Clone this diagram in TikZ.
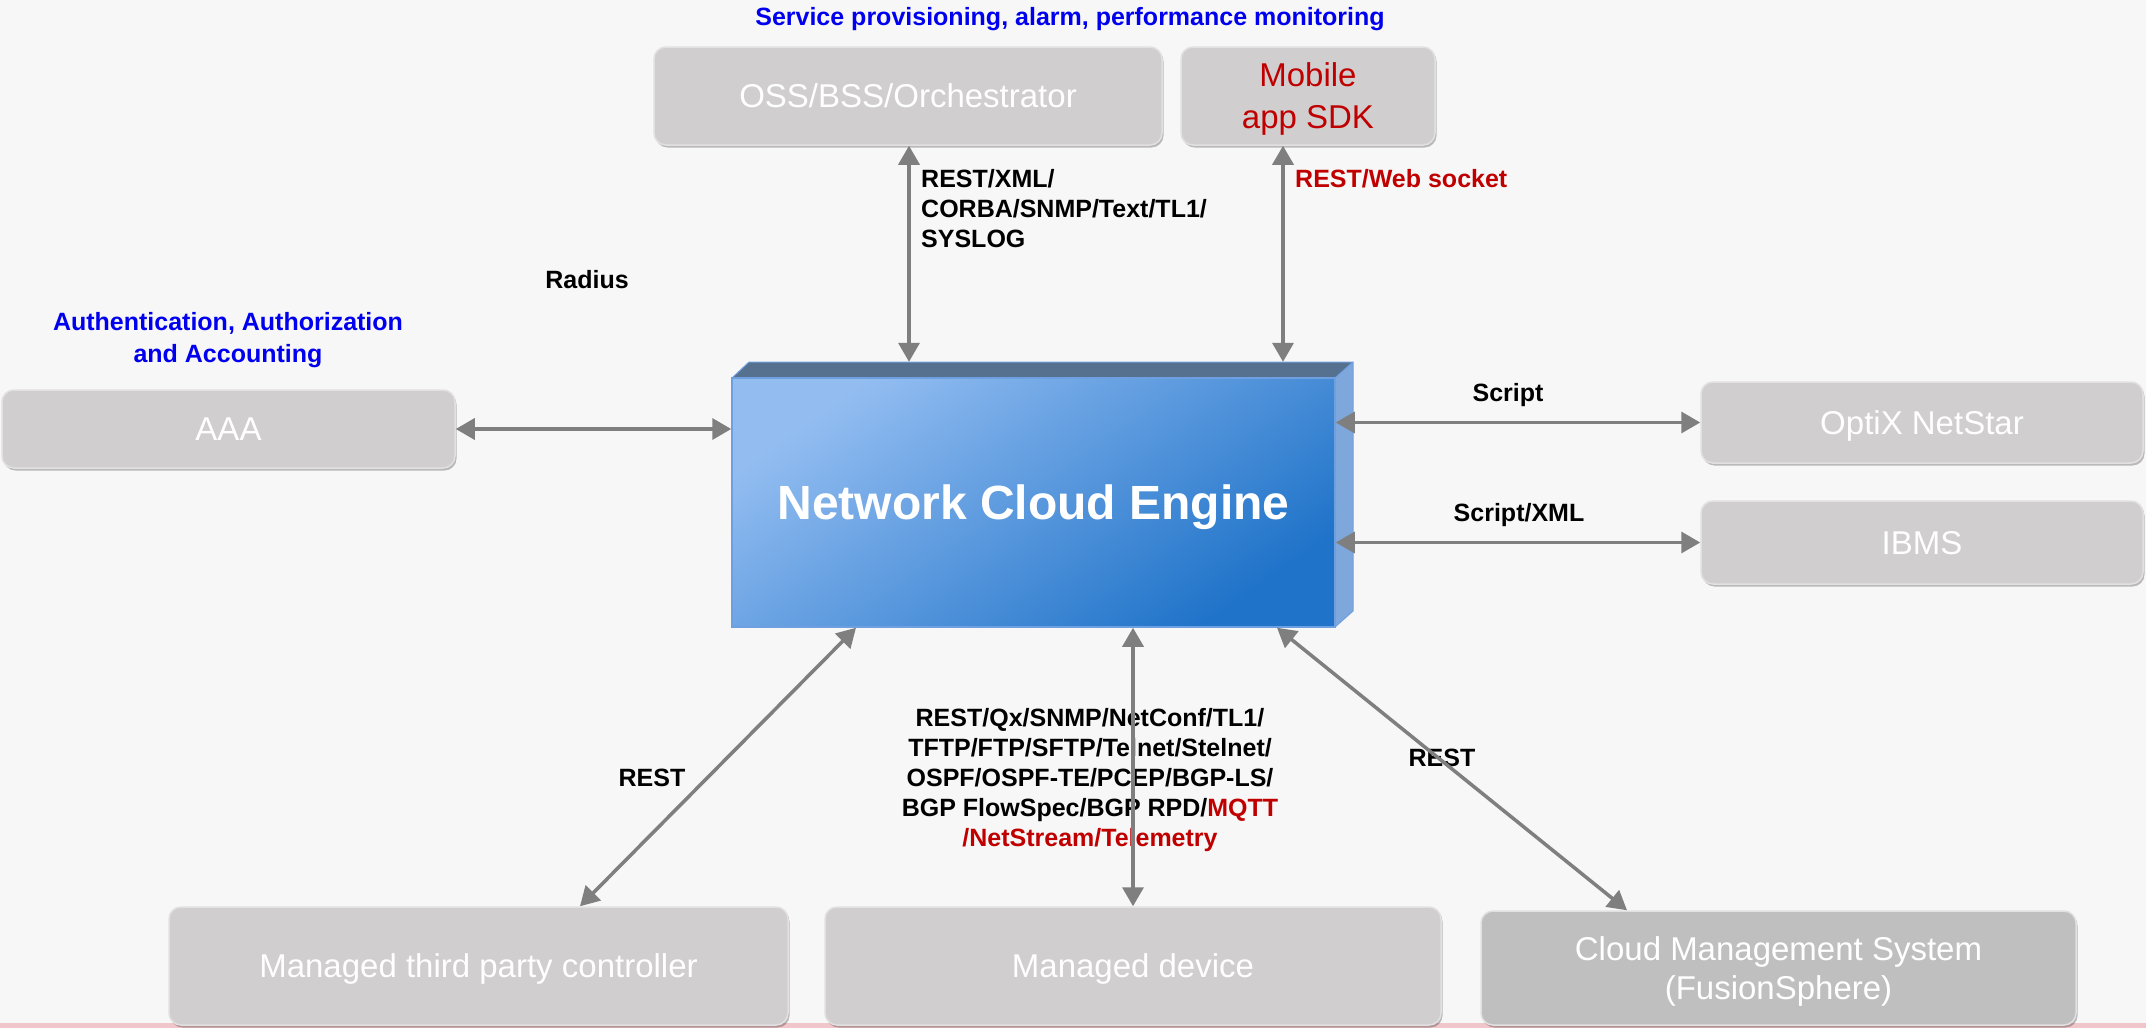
\documentclass[tikz,border=0pt]{standalone}
\usepackage{fontspec}
\setmainfont{Liberation Sans}
\usetikzlibrary{arrows.meta,shadows}
\definecolor{bggray}{HTML}{F7F7F7}
\definecolor{boxgray}{HTML}{D0CECF}
\definecolor{boxdark}{HTML}{BFBFBF}
\definecolor{boxline}{HTML}{E2E0E1}
\definecolor{arrgray}{HTML}{7F7F7F}
\definecolor{lblue}{HTML}{0000EE}
\definecolor{lred}{HTML}{C00000}
\definecolor{nceLight}{HTML}{93BDF1}
\definecolor{nceDark}{HTML}{1F73C9}
\definecolor{nceTop}{HTML}{56718F}
\definecolor{nceSide}{HTML}{7EA8DC}
\definecolor{nceEdge}{HTML}{6E9FE0}
\definecolor{stripe}{HTML}{F0C6CA}
\begin{document}
\begin{tikzpicture}[x=1pt,y=-1pt,
  gbox/.style={rectangle, rounded corners=12pt, fill=boxgray, draw=boxline, line width=1.5pt,
    text=white, font=\fontsize{33}{40}\selectfont, align=center, inner sep=0pt, text depth=0pt,
    drop shadow={shadow xshift=1.5pt, shadow yshift=-2.5pt, fill=black, opacity=0.25}},
  lbl/.style={font=\bfseries\fontsize{25}{30}\selectfont, inner sep=0pt},
  biarrow/.style={draw=arrgray, line width=3.5pt,
    {Triangle[length=19pt,width=21pt]}-{Triangle[length=19pt,width=21pt]}},
]
% background
\fill[bggray] (0,0) rectangle (2146,1028);
\useasboundingbox (0,0) rectangle (2146,1028);
\fill[stripe] (0,1023) rectangle (2146,1028);

% boxes
\node[gbox, minimum width=508pt, minimum height=98pt] (oss) at (908,96) {OSS/BSS/Orchestrator};
\node[gbox, minimum width=254pt, minimum height=98pt, text=lred, font=\fontsize{33}{42}\selectfont] (mob) at (1308,96) {Mobile\\app SDK};
\node[gbox, minimum width=453pt, minimum height=78pt] (aaa) at (228.5,429) {AAA};
\node[gbox, minimum width=442pt, minimum height=81pt] (optix) at (1922,422.5) {OptiX NetStar};
\node[gbox, minimum width=442pt, minimum height=83pt] (ibms) at (1922,542.5) {IBMS};
\node[gbox, minimum width=619pt, minimum height=118pt] (ctrl) at (478.5,966) {Managed third party controller};
\node[gbox, minimum width=616pt, minimum height=118pt] (dev) at (1133,966) {Managed device};
\node[gbox, minimum width=595pt, minimum height=114pt, fill=boxdark, font=\fontsize{33}{39}\selectfont] (cms) at (1778.5,968) {Cloud Management System\\(FusionSphere)};

% Network Cloud Engine (3D box)
\node[minimum width=621pt, minimum height=265pt, inner sep=0pt] (ncebox) at (1042.5,494.5) {};
\fill[nceTop] (732,378) -- (749,362) -- (1353,362) -- (1335,378) -- cycle;
\fill[nceSide] (1335,378) -- (1353,362) -- (1353,611) -- (1335,627) -- cycle;
\draw[nceEdge, line width=1pt] (732,378) -- (749,362) -- (1353,362) -- (1353,611) -- (1335,627);
\draw[nceEdge, line width=1pt] (1335,378) -- (1353,362);
\node[rectangle, minimum width=603pt, minimum height=249pt, inner sep=0pt, text depth=0pt,
  top color=nceLight, bottom color=nceDark, shading angle=35, draw=nceEdge, line width=1.5pt,
  text=white, font=\bfseries\fontsize{48}{56}\selectfont] (nce) at (1033.5,502.5) {Network Cloud Engine};

% labels
\node[lbl, text=lblue, anchor=base] (t1) at (1070,25) {Service provisioning, alarm, performance monitoring};
\node[lbl, text=lblue, align=center, anchor=north, font=\bfseries\fontsize{25}{32}\selectfont] (t2) at (228,312) {Authentication, Authorization\\and Accounting};
\node[lbl, anchor=base] (l1) at (587,288) {Radius};
\node[lbl, align=left, anchor=north west] (l2) at (921,169) {REST/XML/\\CORBA/SNMP/Text/TL1/\\SYSLOG};
\node[lbl, text=lred, anchor=base west] (l3) at (1295,187) {REST/Web socket};
\node[lbl, anchor=base] (l4) at (1508,401) {Script};
\node[lbl, anchor=base] (l5) at (1519,521) {Script/XML};
\node[lbl, anchor=base] (l6) at (652,786) {REST};
\node[lbl, anchor=base] (l7) at (1442,766) {REST};
\node[lbl, align=center, anchor=north] (l8) at (1090,708) {REST/Qx/SNMP/NetConf/TL1/\\TFTP/FTP/SFTP/Telnet/Stelnet/\\OSPF/OSPF-TE/PCEP/BGP-LS/\\BGP FlowSpec/BGP RPD/\textcolor{lred}{MQTT}\\\textcolor{lred}{/NetStream/Telemetry}};

% connectors
\coordinate (xo) at (909,0);
\coordinate (xm) at (1283,0);
\coordinate (xa) at (856,0);
\coordinate (xb) at (580,0);
\coordinate (xc) at (1277,0);
\coordinate (xd) at (1627,0);
\draw[biarrow] (oss.south -| xo) -- (ncebox.north -| xo);
\draw[biarrow] (mob.south -| xm) -- (ncebox.north -| xm);
\draw[biarrow] (aaa.east) -- (nce.west |- aaa.east);
\draw[biarrow] (nce.east |- optix.west) -- (optix.west);
\draw[biarrow] (nce.east |- ibms.west) -- (ibms.west);
\draw[biarrow] (nce.south -| xa) -- (ctrl.north -| xb);
\draw[biarrow] (nce.south -| dev.north) -- (dev.north);
\draw[biarrow] (nce.south -| xc) -- (cms.north -| xd);
\end{tikzpicture}
\end{document}
